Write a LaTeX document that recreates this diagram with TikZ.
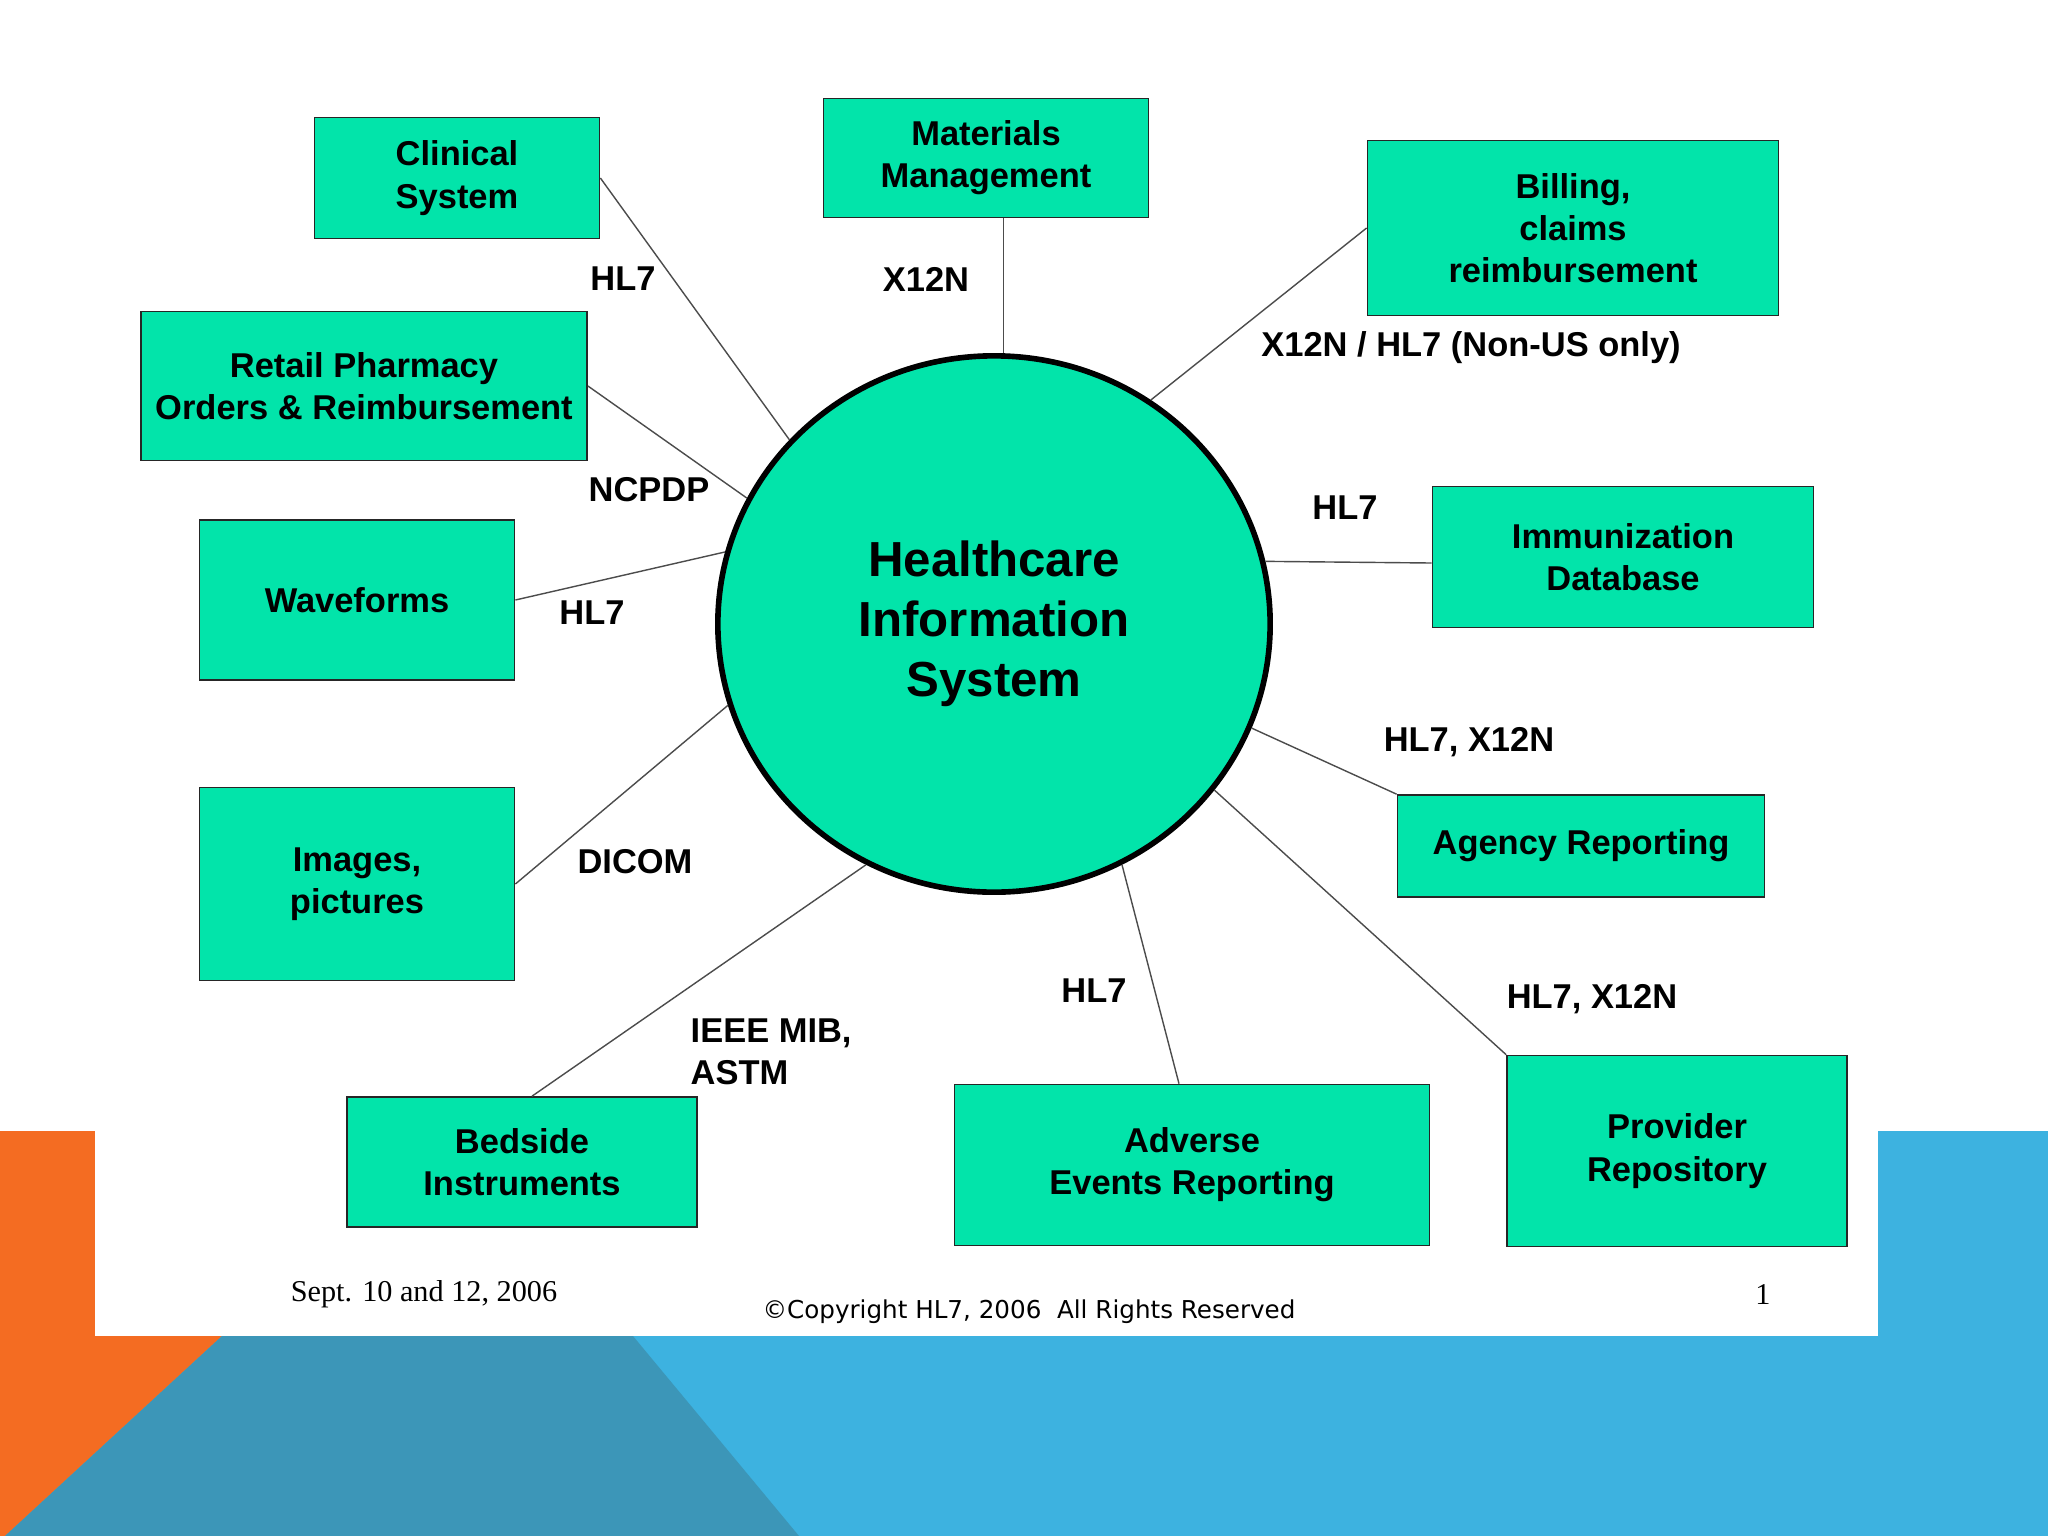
\documentclass[tikz,border=0pt]{standalone}
\usepackage{fontspec}
\setmainfont{Liberation Sans}
\newfontfamily\datefont{Liberation Serif}
\newfontfamily\copyfont{DejaVu Sans}
\usetikzlibrary{shapes.geometric}
\definecolor{hisgreen}{RGB}{2,228,170}
\definecolor{slideorange}{RGB}{244,108,34}
\definecolor{slideblue}{RGB}{61,178,224}
\definecolor{slideteal}{RGB}{60,150,184}

\begin{document}
\begin{tikzpicture}[x=0.01cm, y=-0.01cm,
    block/.style={rectangle, draw=black!85, fill=hisgreen, line width=0.45pt, align=center, inner sep=0pt, font=\fontsize{9.8}{12}\selectfont\bfseries},
    hub/.style={ellipse, draw=black, fill=hisgreen, line width=1.6pt, inner sep=0pt, minimum width=5.52cm, minimum height=5.36cm, align=center, font=\fontsize{14}{17}\selectfont\bfseries},
    lbl/.style={inner sep=0pt, align=left, font=\fontsize{9.8}{12}\selectfont\bfseries},
    link/.style={draw=black!70, line width=0.4pt}]

    \useasboundingbox (0,0) rectangle (2048,1536);
    \fill[white] (0,0) rectangle (2048,1536);
    \fill[slideblue] (0,1131) rectangle (2048,1536);
    \fill[slideorange] (0,1131) -- (222,1131) -- (222,1336) -- (5,1536) -- (0,1536) -- cycle;
    \fill[slideteal] (222,1336) -- (633,1336) -- (799,1536) -- (5,1536) -- cycle;
    \fill[white] (95,1131) rectangle (1878,1336);

    \node[hub] (hub) at (994,624) {Healthcare\\Information\\System};

    \node[block, minimum width=2.85cm, minimum height=1.21cm] (clin) at (457,178) {Clinical\\System};
    \node[block, minimum width=4.46cm, minimum height=1.49cm] (retail) at (364,386) {Retail Pharmacy\\Orders \& Reimbursement};
    \node[block, minimum width=3.15cm, minimum height=1.60cm] (wave) at (357,600) {Waveforms};
    \node[block, minimum width=3.15cm, minimum height=1.93cm] (img) at (357,884) {Images,\\pictures};
    \node[block, minimum width=3.50cm, minimum height=1.30cm] (bed) at (522,1162) {Bedside\\Instruments};
    \node[block, minimum width=3.25cm, minimum height=1.19cm] (mat) at (986,158) {Materials\\Management};
    \node[block, minimum width=4.11cm, minimum height=1.75cm] (bill) at (1573,228) {Billing,\\claims\\reimbursement};
    \node[block, minimum width=3.81cm, minimum height=1.41cm] (imm) at (1623,557) {Immunization\\Database};
    \node[block, minimum width=3.67cm, minimum height=1.02cm] (agency) at (1581,846) {Agency Reporting};
    \node[block, minimum width=3.40cm, minimum height=1.91cm] (prov) at (1677,1151) {Provider\\Repository};
    \node[block, minimum width=4.75cm, minimum height=1.61cm] (adv) at (1192,1165) {Adverse\\Events Reporting};

    \draw[link] (clin.east) -- (hub.138);
    \draw[link] (retail.east) -- (hub.153);
    \draw[link] (wave.east) -- (hub.165);
    \draw[link] (img.east) -- (hub.197);
    \draw[link] ([xshift=0.1cm]bed.north) -- (hub.242);
    \draw[link] (mat.south -| hub.88) -- (hub.88);
    \draw[link] (bill.west) -- (hub.55);
    \draw[link] ([yshift=-0.06cm]imm.west) -- (hub.13);
    \draw[link] (agency.north west) -- (hub.338);
    \draw[link] (prov.north west) -- (hub.323);
    \draw[link] ([xshift=-0.13cm]adv.north) -- (hub.298);

    \node[lbl] (l-clin) at (623,279) {HL7};
    \node[lbl] (l-retail) at (649,490) {NCPDP};
    \node[lbl] (l-wave) at (592,613) {HL7};
    \node[lbl] (l-img) at (635,862) {DICOM};
    \node[lbl, anchor=west] (l-bed) at (690,1052) {IEEE MIB,\\ASTM};
    \node[lbl] (l-mat) at (926,279) {X12N};
    \node[lbl] (l-bill) at (1471,348) {X12N / HL7 (Non-US only)};
    \node[lbl] (l-imm) at (1345,508) {HL7};
    \node[lbl] (l-agency) at (1469,742) {HL7, X12N};
    \node[lbl] (l-prov) at (1592,999) {HL7, X12N};
    \node[lbl] (l-adv) at (1094,991) {HL7};

    \node[font=\datefont\fontsize{8.6}{10}\selectfont] (date) at (424,1294) {Sept. 10 and 12, 2006};
    \node[font=\copyfont\fontsize{7}{9}\selectfont] (copy) at (1029,1312) {\textcopyright Copyright HL7, 2006~~All Rights Reserved};
    \node[font=\datefont\fontsize{8.6}{10}\selectfont] (pgno) at (1763,1294) {1};
\end{tikzpicture}
\end{document}
